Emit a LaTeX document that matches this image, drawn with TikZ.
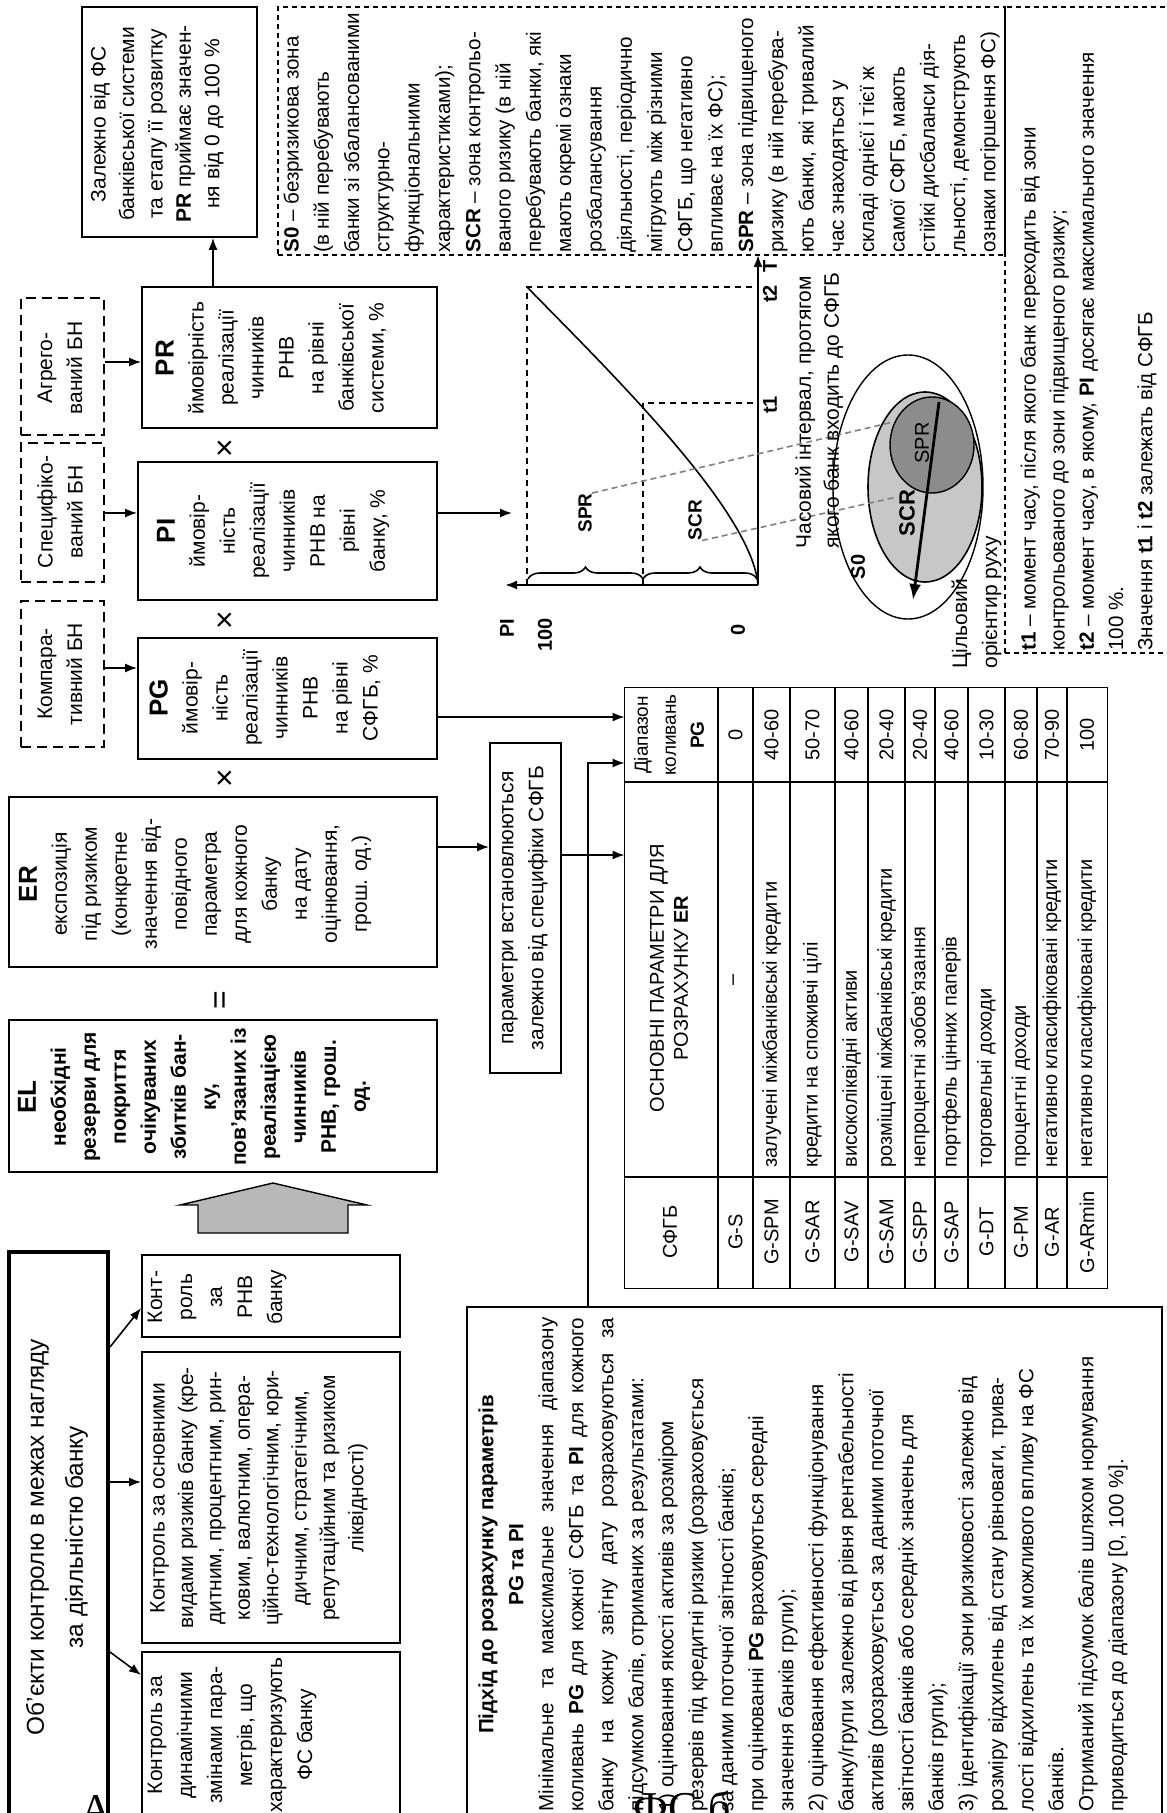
\documentclass[tikz,border=0pt]{standalone}
\usepackage{fontspec}
\setmainfont{Liberation Sans}
\newfontfamily\seriffam{Liberation Serif}
\usetikzlibrary{arrows.meta,fit,decorations.pathreplacing}
\begin{document}
\begin{tikzpicture}[x=0.5pt,y=-0.5pt,
 box/.style={draw,line width=0.9pt,inner sep=0pt},
 dbox/.style={draw,line width=0.8pt,dash pattern=on 5pt off 3pt,inner sep=0pt},
 sbox/.style={draw,line width=0.7pt,dash pattern=on 2.5pt off 2pt,inner sep=0pt},
 txt/.style={rotate=90,inner sep=0pt,align=center,font=\fontsize{10.5}{15}\selectfont},
 ltxt/.style={rotate=90,inner sep=0pt,align=left,anchor=north west,font=\fontsize{10.3}{15}\selectfont},
 arr/.style={line width=0.8pt,-{Latex[length=6pt,width=4.5pt]}},
 sign/.style={rotate=90,inner sep=0pt,font=\fontsize{16}{16}\selectfont},
 cell/.style={rotate=90,inner sep=0pt,font=\fontsize{10}{12}\selectfont},
 lab/.style={rotate=90,inner sep=0pt,font=\bfseries\fontsize{10}{12}\selectfont},
 gdash/.style={gray,line width=0.8pt,dash pattern=on 3pt off 2pt},
 axisarr/.style={line width=1pt,-{Latex[length=6pt,width=4.5pt]}},
]
\useasboundingbox (0,0) rectangle (1166,1813);

% ---------- top chain ----------
\node[box,fit={(82,7)(257,237)}] (ZB) {};
\node[txt,font=\fontsize{10.5}{14.2}\selectfont] (ZBt) at (157,124) {Залежно від ФС\\банківської системи\\та етапу її розвитку\\\textbf{PR} приймає значен-\\ня від 0 до 100~\%};

\node[box,fit={(142,287)(437,428)}] (PR) {};
\node[txt] (PRt) at (271,358) {{\fontsize{13}{15}\selectfont\textbf{PR}}\\ймовірність\\реалізації\\чинників\\РНВ\\на рівні\\банківської\\системи, \%};

\node[box,fit={(138,462)(437,600)}] (PI) {};
\node[txt] (PIt) at (273,531) {{\fontsize{13}{15}\selectfont\textbf{PI}}\\ймовір-\\ність\\реалізації\\чинників\\РНВ на\\рівні\\банку, \%};

\node[box,fit={(138,638)(437,759)}] (PG) {};
\node[txt] (PGt) at (265,698) {{\fontsize{13}{15}\selectfont\textbf{PG}}\\ймовір-\\ність\\реалізації\\чинників\\РНВ\\на рівні\\СФГБ, \%};

\node[box,fit={(9,797)(437,967)}] (ER) {};
\node[txt] (ERt) at (195,884) {{\fontsize{13}{15}\selectfont\textbf{ER}}\\експозиція\\під ризиком\\(конкретне\\значення від-\\повідного\\параметра\\для кожного\\банку\\на дату\\оцінювання,\\грош. од.)};

\node[box,fit={(9,1020)(437,1172)}] (EL) {};
\node[txt,font=\bfseries\fontsize{10.5}{15}\selectfont] (ELt) at (194,1097) {{\fontsize{13}{15}\selectfont EL}\\необхідні\\резерви для\\покриття\\очікуваних\\збитків бан-\\ку,\\пов’язаних із\\реалізацією\\чинників\\РНВ, грош.\\од.};

\node[dbox,fit={(21,298)(104,435)}] (AGR) {};
\node[txt] (AGRt) at (60,368) {Агрего-\\ваний БН};
\node[dbox,fit={(21,443)(104,582)}] (SPC) {};
\node[txt] (SPCt) at (60,512) {Специфіко-\\ваний БН};
\node[dbox,fit={(21,601)(104,747)}] (KMP) {};
\node[txt] (KMPt) at (60,674) {Компара-\\тивний БН};

\node[sign] (x1) at (227,448) {×};
\node[sign] (x2) at (227,620) {×};
\node[sign] (x3) at (227,778) {×};
\node[sign] (eq) at (223,1000) {=};

\coordinate (k1) at (213,260);
\draw[arr] (k1 |- PR.north) -- (k1 |- ZB.south);
\coordinate (k2) at (120,362);
\draw[arr] (k2 -| AGR.east) -- (k2 -| PR.west);
\coordinate (k3) at (120,513);
\draw[arr] (k3 -| SPC.east) -- (k3 -| PI.west);
\coordinate (k4) at (120,668);
\draw[arr] (k4 -| KMP.east) -- (k4 -| PG.west);

% gray block arrow
\filldraw[fill=black!28,line width=0.7pt] (198,1233) -- (198,1205) -- (180,1205) -- (273,1183) -- (367,1205) -- (348,1205) -- (348,1233) -- cycle;

% ---------- objects of control ----------
\node[draw,line width=2pt,inner sep=0pt,fit={(9,1252)(108,1828)}] (OBJ) {};
\node[txt,font=\fontsize{12.2}{19.5}\selectfont] (OBJt) at (57,1537) {Об’єкти контролю в межах нагляду\\за діяльністю банку};

\node[box,fit={(142,1255)(400,1337)}] (CA) {};
\node[txt] (CAt) at (217,1297) {Конт-\\роль\\за\\РНВ\\банку};
\node[box,fit={(142,1352)(400,1643)}] (CB) {};
\node[txt,font=\fontsize{10.5}{14.2}\selectfont] (CBt) at (259,1498) {Контроль за основними\\видами ризиків банку (кре-\\дитним, процентним, рин-\\ковим, валютним, опера-\\ційно-технологічним, юри-\\дичним, стратегічним,\\репутаційним та ризиком\\ліквідності)};
\node[box,fit={(142,1652)(400,1845)}] (CC) {};
\node[txt] (CCt) at (232,1735) {Контроль за\\динамічними\\змінами пара-\\метрів, що\\характеризують\\ФС банку};

\coordinate (o1) at (0,1347); \coordinate (o2) at (0,1308);
\draw[arr] (OBJ.east |- o1) -- (CA.west |- o2);
\coordinate (o3) at (0,1482);
\draw[arr] (OBJ.east |- o3) -- (CB.west |- o3);
\coordinate (o4) at (0,1652); \coordinate (o5) at (0,1675);
\draw[arr] (OBJ.east |- o4) -- (CC.west |- o5);

% ---------- parameters box and table ----------
\node[box,fit={(490,743)(561,1073)}] (PAR) {};
\node[txt,font=\fontsize{10.5}{15}\selectfont] (PARt) at (525,908) {параметри встановлюються\\залежно від специфіки СФГБ};

\node[inner sep=0pt,fit={(625,688)(1107,1288)}] (TB) {};
\draw[line width=0.7pt] (TB.north west) rectangle (TB.south east);
\foreach \r in {718,753,790,835,868,905,935,968,1005,1037,1067}
  \draw[line width=0.6pt] (\r,688) -- (\r,1288);
\draw[line width=0.6pt] (625,782) -- (1107,782);
\draw[line width=0.6pt] (625,1177) -- (1107,1177);

\node[cell] (h1) at (670,1232) {СФГБ};
\node[cell,align=center] (h2) at (669,978) {ОСНОВНІ ПАРАМЕТРИ ДЛЯ\\РОЗРАХУНКУ \textbf{ER}};
\node[cell,align=center,font=\fontsize{9.5}{14}\selectfont] (h3) at (669,735) {Діапазон\\коливань\\\textbf{PG}};

\node[cell] (g0) at (735.5,1232) {G-S};
\node[cell] (p0) at (735.5,980) {–};
\node[cell] (v0) at (735.5,735) {0};
\foreach \xc/\g/\p/\v [count=\i] in {
771.5/G-SPM/залучені міжбанківські кредити/40-60,
812.5/G-SAR/кредити на споживчі цілі/50-70,
851.5/G-SAV/високоліквідні активи/40-60,
886.5/G-SAM/розміщені міжбанківські кредити/20-40,
920/G-SPP/непроцентні зобов’язання/20-40,
951.5/G-SAP/портфель цінних паперів/40-60,
986.5/G-DT/торговельні доходи/10-30,
1021/G-PM/процентні доходи/60-80,
1052/G-AR/негативно класифіковані кредити/70-90,
1087/G-ARmin/негативно класифіковані кредити/100}
{
 \node[cell] (g\i) at (\xc,1232) {\g};
 \node[cell,anchor=west] (p\i) at (\xc,1168) {\p};
 \node[cell] (v\i) at (\xc,735) {\v};
}

\coordinate (p1c) at (0,717);
\draw[arr] (PG.east |- p1c) -- (TB.west |- p1c);
\coordinate (p2c) at (0,847);
\draw[arr] (ER.east |- p2c) -- (PAR.west |- p2c);
\coordinate (p3c) at (0,855);
\draw[arr] (PAR.east |- p3c) -- (TB.west |- p3c);

% ---------- approach box ----------
\node[box,fit={(467,1307)(1162,1845)}] (PDH) {};
\node[ltxt] (PDHt) at (478,1812) {\parbox{247pt}{\fontsize{10.3}{15}\selectfont
{\centering\textbf{Підхід до розрахунку параметрів}\\\textbf{PG та PI}\par}
\raggedright
\makebox[\linewidth][s]{Мінімальне та максимальне значення діапазону}\\
\makebox[\linewidth][s]{коливань \textbf{PG} для кожної СФГБ та \textbf{PI} для кожного}\\
\makebox[\linewidth][s]{банку на кожну звітну дату розраховуються за}\\
підсумком балів, отриманих за результатами:\\
1) оцінювання якості активів за розміром\\
резервів під кредитні ризики (розраховується\\
за даними поточної звітності банків;\\
при оцінюванні \textbf{PG} враховуються середні\\
значення банків групи);\\
2) оцінювання ефективності функціонування\\
банку/групи залежно від рівня рентабельності\\
активів (розраховується за даними поточної\\
звітності банків або середніх значень для\\
банків групи);\\
3) ідентифікації зони ризиковості залежно від\\
розміру відхилень від стану рівноваги, трива-\\
лості відхилень та їх можливого впливу на ФС\\
банків.\\
Отриманий підсумок балів шляхом нормування\\
приводиться до діапазону [0, 100~\%].}};

\coordinate (p4c) at (588,763);
\draw[arr] (p4c |- PDH.north) -- (p4c) -- (p4c -| TB.west);

% ---------- graph ----------
\coordinate (O) at (758,585);
\coordinate (Ptop) at (505,585);
\coordinate (Ttop) at (758,255);
\coordinate (gin) at (512,513);
\draw[arr] (gin -| PI.east) -- (gin);
\draw[dash pattern=on 3pt off 2.5pt,line width=0.7pt] (527,585) -- (527,287) -- (758,287);
\draw[dash pattern=on 3pt off 2.5pt,line width=0.7pt] (643,585) -- (643,403) -- (758,403);
\draw[line width=0.8pt] (O) .. controls (752,510) and (607,369) .. (527,287);
\draw[axisarr] (O) -- (Ptop);
\draw[axisarr] (O) -- (Ttop);
\draw[decorate,decoration={brace,amplitude=6pt},line width=0.8pt] (643,579) -- (757,579);
\draw[decorate,decoration={brace,amplitude=6pt},line width=0.8pt] (528,579) -- (643,579);
\node[lab,font=\bfseries\fontsize{9.5}{11}\selectfont] (lSPR) at (585,513) {SPR};
\node[lab,font=\bfseries\fontsize{9.5}{11}\selectfont] (lSCR) at (695,520) {SCR};
\node[lab] (lPI) at (507,628) {PI};
\node[lab] (l100) at (545,635) {100};
\node[lab] (l0) at (738,630) {0};
\node[lab] (lt1) at (770,405) {t1};
\node[lab] (lt2) at (770,294) {t2};
\node[lab] (lT) at (770,266) {T};

% ---------- ellipses ----------
\draw[line width=0.7pt,fill=white] (908,487) ellipse [x radius=37.5pt,y radius=66pt];
\draw[line width=0.8pt,fill=black!22] (925,487) ellipse [x radius=28.5pt,y radius=47.5pt];
\draw[line width=0.7pt,fill=black!45] (932,445) ellipse [x radius=21pt,y radius=24pt];
\node[lab] (eS0) at (858,567) {S0};
\node[lab,font=\bfseries\fontsize{11}{12}\selectfont] (eSCR) at (907,513) {SCR};
\node[lab,font=\fontsize{10}{12}\selectfont] (eSPR) at (922,443) {SPR};
\coordinate (ga1) at (939,402); \coordinate (ga2) at (913,600);
\draw[line width=1.4pt,-{Latex[length=8pt,width=6pt]}] (ga1) -- (ga2);
\coordinate (d1) at (893,422); \coordinate (d2) at (897,497);
\draw[gdash] (lSPR.south east) -- (d1);
\draw[gdash] (lSCR.south west) -- (d2);

\node[ltxt,font=\fontsize{10.5}{14}\selectfont] (tint) at (795,549) {Часовий інтервал, протягом\\якого банк входить до СФГБ};
\node[ltxt,font=\fontsize{10.5}{15}\selectfont] (tgoal) at (951,669) {Цільовий\\орієнтир руху};

% ---------- dashed legend boxes ----------
\node[sbox,fit={(278,7)(1005,255)}] (S0B) {};
\node[sbox,fit={(1005,7)(1185,653)}] (T1B) {};
\node[ltxt,font=\fontsize{10.3}{15.15}\selectfont] (S0t) at (283,253) {\textbf{S0} – безризикова зона\\(в ній перебувають\\банки зі збалансованими\\структурно-\\функціональними\\характеристиками);\\\textbf{SCR} – зона контрольо-\\ваного ризику (в ній\\перебувають банки, які\\мають окремі ознаки\\розбалансування\\діяльності, періодично\\мігрують між різними\\СФГБ, що негативно\\впливає на їх ФС);\\\textbf{SPR} – зона підвищеного\\ризику (в ній перебува-\\ють банки, які тривалий\\час знаходяться у\\складі однієї і тієї ж\\самої СФГБ, мають\\стійкі дисбаланси дія-\\льності, демонструють\\ознаки погіршення ФС)};
\node[ltxt,font=\fontsize{10.3}{14.6}\selectfont] (T1t) at (1020,651) {\textbf{t1} – момент часу, після якого банк переходить від зони\\контрольованого до зони підвищеного ризику;\\\textbf{t2} – момент часу, в якому, \textbf{PI} досягає максимального значення\\100~\%.\\Значення \textbf{t1} і \textbf{t2} залежать від СФГБ};

% ---------- fragments of page text at the bottom ----------
\node[anchor=base west,inner sep=0pt,font=\seriffam\fontsize{22}{22}\selectfont] (fr1) at (80,1824) {А};
\node[anchor=base west,inner sep=0pt,font=\seriffam\fontsize{22}{22}\selectfont] (fr2) at (633,1822) {ФС б};
\end{tikzpicture}
\end{document}
